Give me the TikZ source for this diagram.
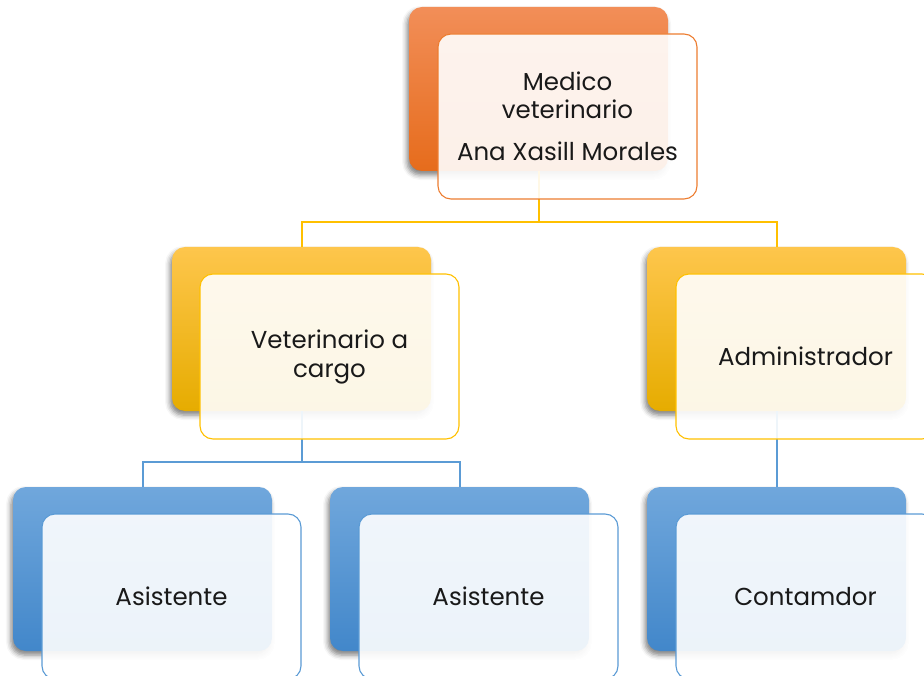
\documentclass[tikz,border=0pt]{standalone}
\usepackage{fontspec}
\setmainfont{Poppins}
\usetikzlibrary{shadows.blur}
\definecolor{orT}{RGB}{242,142,88}
\definecolor{orB}{RGB}{230,108,28}
\definecolor{orL}{RGB}{237,125,49}
\definecolor{yeT}{RGB}{254,198,76}
\definecolor{yeM}{RGB}{255,192,0}
\definecolor{yeB}{RGB}{230,172,0}
\definecolor{blT}{RGB}{112,167,220}
\definecolor{blB}{RGB}{66,135,202}
\definecolor{blL}{RGB}{91,155,213}
\tikzset{
  backbox/.style={rectangle, rounded corners=13pt, minimum width=259pt, minimum height=164pt, inner sep=0pt, draw=none,
    blur shadow={shadow xshift=-2pt, shadow yshift=-4pt, shadow blur radius=5pt, shadow opacity=50}},
  backO/.style={backbox, top color=orT, bottom color=orB},
  backY/.style={backbox, top color=yeT, middle color=yeM, bottom color=yeB},
  backB/.style={backbox, top color=blT, bottom color=blB},
  frontbox/.style={rectangle, rounded corners=13pt, minimum width=259pt, minimum height=165pt, inner sep=0pt,
    fill=white, fill opacity=0.9, text opacity=1, line width=1.1pt, align=center, text=black!90,
    font=\fontsize{24.5pt}{29pt}\selectfont},
  frontO/.style={frontbox, draw=orL},
  frontY/.style={frontbox, draw=yeM},
  frontB/.style={frontbox, draw=blL},
  linkY/.style={draw=yeM, line width=2pt},
  linkB/.style={draw=blL, line width=2pt},
}
\begin{document}
\begin{tikzpicture}[x=1pt,y=-1pt]
\useasboundingbox (0,0) rectangle (924,676);
% back boxes
\node[backO] (b1) at (538.5,89) {};
\node[backY] (b2) at (301.5,329) {};
\node[backY] (b3) at (776.5,329) {};
\node[backB] (b4) at (142.5,569) {};
\node[backB] (b5) at (459.5,569) {};
\node[backB] (b6) at (776.5,569) {};
% connectors
\coordinate (j1) at (538.5,222);
\coordinate (j2) at (301.5,462);
\draw[linkY] (b1.south) -- (j1) -| (b2.north);
\draw[linkY] (j1) -| (b3.north);
\draw[linkB] (b2.south) -- (j2) -| (b4.north);
\draw[linkB] (j2) -| (b5.north);
\draw[linkB] (b3.south) -- (b6.north);
% front boxes
\node[frontO] (f1) at (567.5,116.5) {Medico\\[-1pt]veterinario\\[13pt]Ana Xasill Morales};
\node[frontY] (f2) at (329.5,356.5) {Veterinario a\\cargo};
\node[frontY] (f3) at (805.5,356.5) {Administrador};
\node[frontB] (f4) at (171.5,596.5) {Asistente};
\node[frontB] (f5) at (488.5,596.5) {Asistente};
\node[frontB] (f6) at (805.5,596.5) {Contamdor};
\end{tikzpicture}
\end{document}
